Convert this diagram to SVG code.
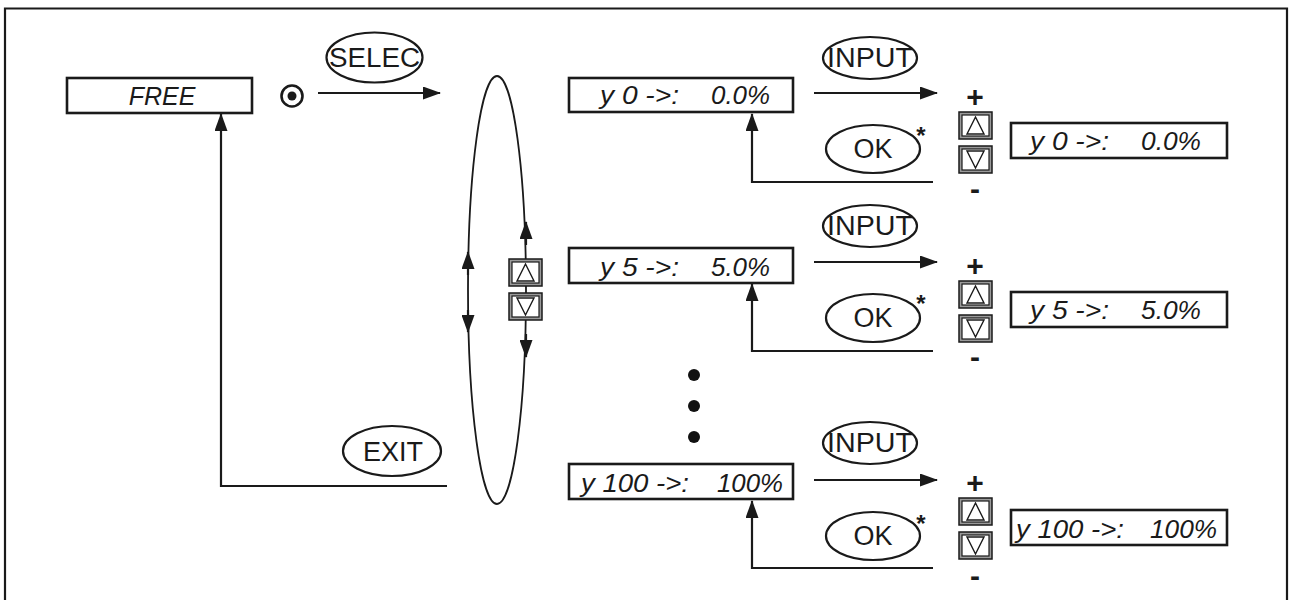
<svg xmlns="http://www.w3.org/2000/svg" width="1292" height="600" viewBox="0 0 1292 600">
<style>
.ln{fill:none;stroke:#1a1a1a;stroke-width:2.2}
.thin{fill:none;stroke:#1a1a1a;stroke-width:1.8}
.box{fill:#fff;stroke:#1a1a1a;stroke-width:2.6}
.el{fill:#fff;stroke:#1a1a1a;stroke-width:2.2}
.lbl{font-family:"Liberation Sans",Arial,sans-serif;font-size:27px;fill:#1a1a1a;text-anchor:middle}
.disp{font-family:"Liberation Sans",Arial,sans-serif;font-size:25px;font-style:italic;fill:#1a1a1a}
.pm{font-family:"Liberation Sans",Arial,sans-serif;font-size:30px;font-weight:bold;fill:#1a1a1a;text-anchor:middle}
.ast{font-family:"Liberation Sans",Arial,sans-serif;font-size:24px;font-weight:bold;fill:#1a1a1a;text-anchor:middle}
.btno{fill:#9a9a9a;stroke:#1a1a1a;stroke-width:1.5}
.btni{fill:#fff;stroke:#1a1a1a;stroke-width:1.2}
.tri{fill:none;stroke:#1a1a1a;stroke-width:1.4}
</style>
<defs>
<marker id="arr" markerUnits="userSpaceOnUse" markerWidth="18" markerHeight="13" refX="17" refY="6.5" orient="auto">
<path d="M0,0 L18,6.5 L0,13 z" fill="#1a1a1a"/>
</marker>
<g id="btnUp"><rect class="btno" x="0" y="0" width="33" height="27"/><rect class="btni" x="3" y="3" width="27" height="21"/><path class="tri" d="M16.5,5 L25,22 L8,22 z"/></g>
<g id="btnDn"><rect class="btno" x="0" y="0" width="33" height="27"/><rect class="btni" x="3" y="3" width="27" height="21"/><path class="tri" d="M8,5 L25,5 L16.5,22 z"/></g>
</defs>
<rect width="1292" height="600" fill="#fff"/>
<path class="ln" d="M5,605 V8.5 H1287 V605" stroke-width="2.4"/>

<g id="connectors">
<path class="ln" d="M318,93 H440" marker-end="url(#arr)"/>
<path class="ln" d="M447,486 H221 V114" marker-end="url(#arr)"/>
<path class="ln" d="M814,93 H937" marker-end="url(#arr)"/>
<path class="ln" d="M933,182 H752 V114" marker-end="url(#arr)"/>
<path class="ln" d="M814,262 H937" marker-end="url(#arr)"/>
<path class="ln" d="M933,351 H752 V284" marker-end="url(#arr)"/>
<path class="ln" d="M814,480 H937" marker-end="url(#arr)"/>
<path class="ln" d="M933,568 H752 V501" marker-end="url(#arr)"/>
</g>

<g id="loop">
<ellipse class="thin" cx="497" cy="290" rx="29" ry="214"/>
<path class="ln" d="M468,275 V252" marker-end="url(#arr)"/>
<path class="ln" d="M468,310 V332" marker-end="url(#arr)"/>
<path class="ln" d="M526,245 V222" marker-end="url(#arr)"/>
<path class="ln" d="M526,334 V357" marker-end="url(#arr)"/>
</g>

<g id="free">
<rect class="box" x="67" y="78" width="185" height="35"/>
<text class="disp" x="162" y="105" text-anchor="middle" font-size="26">FREE</text>
</g>

<g id="radio">
<circle cx="292" cy="96" r="10.5" fill="none" stroke="#1a1a1a" stroke-width="2.6"/>
<circle cx="292" cy="96" r="4.5" fill="#1a1a1a"/>
</g>

<g id="selec">
<ellipse class="el" cx="374.5" cy="57.5" rx="48" ry="25"/>
<text class="lbl" x="374.5" y="67" textLength="91" lengthAdjust="spacingAndGlyphs" font-size="28">SELEC</text>
</g>

<g id="exit">
<ellipse class="el" cx="392" cy="451" rx="49" ry="25"/>
<text class="lbl" x="393" y="461">EXIT</text>
</g>

<g id="updown-left">
<use href="#btnUp" x="509" y="259"/>
<use href="#btnDn" x="509" y="293"/>
</g>

<g id="dots">
<circle cx="694" cy="375" r="6" fill="#111"/>
<circle cx="694" cy="406" r="6" fill="#111"/>
<circle cx="694" cy="437" r="6" fill="#111"/>
</g>

<!-- Row 1 -->
<g id="y0">
<rect class="box" x="569" y="78" width="224" height="34"/>
<text class="disp" x="600" y="104" textLength="79" lengthAdjust="spacingAndGlyphs">y 0 -&gt;:</text>
<text class="disp" x="711" y="104" textLength="59" lengthAdjust="spacingAndGlyphs">0.0%</text>
</g>
<g id="input1">
<ellipse class="el" cx="870" cy="58" rx="47" ry="21"/>
<text class="lbl" x="870" y="67" textLength="86" lengthAdjust="spacingAndGlyphs" font-size="28">INPUT</text>
</g>
<g id="ok1">
<ellipse class="el" cx="873" cy="149" rx="47" ry="24"/>
<text class="lbl" x="873" y="158">OK</text>
<text class="ast" x="921" y="144">*</text>
</g>
<g id="adj1">
<text class="pm" x="975" y="107">+</text>
<use href="#btnUp" x="959" y="112"/>
<use href="#btnDn" x="959" y="146"/>
<text class="pm" x="975" y="199">-</text>
</g>
<g id="y0-edit">
<rect class="box" x="1011" y="123" width="216" height="35"/>
<text class="disp" x="1030" y="150" textLength="79" lengthAdjust="spacingAndGlyphs">y 0 -&gt;:</text>
<text class="disp" x="1141" y="150" textLength="60" lengthAdjust="spacingAndGlyphs">0.0%</text>
</g>

<!-- Row 2 -->
<g id="y5">
<rect class="box" x="569" y="248" width="224" height="35"/>
<text class="disp" x="600" y="276" textLength="79" lengthAdjust="spacingAndGlyphs">y 5 -&gt;:</text>
<text class="disp" x="711" y="276" textLength="59" lengthAdjust="spacingAndGlyphs">5.0%</text>
</g>
<g id="input2">
<ellipse class="el" cx="870" cy="226" rx="47" ry="21"/>
<text class="lbl" x="870" y="235" textLength="86" lengthAdjust="spacingAndGlyphs" font-size="28">INPUT</text>
</g>
<g id="ok2">
<ellipse class="el" cx="873" cy="318" rx="47" ry="24"/>
<text class="lbl" x="873" y="327">OK</text>
<text class="ast" x="921" y="312">*</text>
</g>
<g id="adj2">
<text class="pm" x="975" y="276">+</text>
<use href="#btnUp" x="959" y="281"/>
<use href="#btnDn" x="959" y="315"/>
<text class="pm" x="975" y="367">-</text>
</g>
<g id="y5-edit">
<rect class="box" x="1011" y="292" width="216" height="35"/>
<text class="disp" x="1030" y="319" textLength="79" lengthAdjust="spacingAndGlyphs">y 5 -&gt;:</text>
<text class="disp" x="1141" y="319" textLength="60" lengthAdjust="spacingAndGlyphs">5.0%</text>
</g>

<!-- Row 3 -->
<g id="y100">
<rect class="box" x="569" y="464" width="224" height="35"/>
<text class="disp" x="581" y="492" textLength="108" lengthAdjust="spacingAndGlyphs">y 100 -&gt;:</text>
<text class="disp" x="717" y="492" textLength="66" lengthAdjust="spacingAndGlyphs">100%</text>
</g>
<g id="input3">
<ellipse class="el" cx="870" cy="443" rx="47" ry="21"/>
<text class="lbl" x="870" y="452" textLength="86" lengthAdjust="spacingAndGlyphs" font-size="28">INPUT</text>
</g>
<g id="ok3">
<ellipse class="el" cx="873" cy="536" rx="47" ry="24"/>
<text class="lbl" x="873" y="545">OK</text>
<text class="ast" x="921" y="532">*</text>
</g>
<g id="adj3">
<text class="pm" x="975" y="493">+</text>
<use href="#btnUp" x="959" y="498"/>
<use href="#btnDn" x="959" y="532"/>
<text class="pm" x="975" y="586">-</text>
</g>
<g id="y100-edit">
<rect class="box" x="1011" y="510" width="216" height="35"/>
<text class="disp" x="1016" y="538" textLength="108" lengthAdjust="spacingAndGlyphs">y 100 -&gt;:</text>
<text class="disp" x="1150" y="538" textLength="67" lengthAdjust="spacingAndGlyphs">100%</text>
</g>
</svg>
